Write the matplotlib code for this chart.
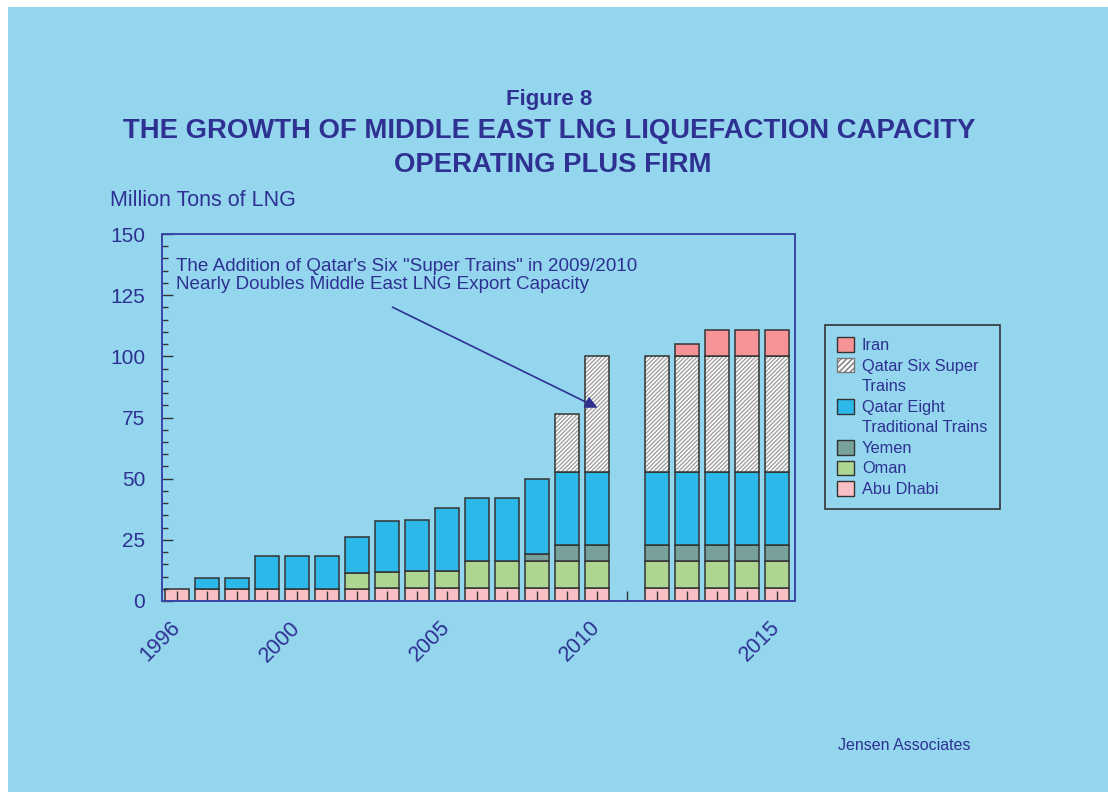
import matplotlib
matplotlib.use("Agg")
import matplotlib.pyplot as plt
from matplotlib.patches import Patch, Rectangle
from matplotlib.ticker import MultipleLocator
import numpy as np

plt.rcParams['font.family'] = ['Liberation Sans', 'DejaVu Sans']

# Category labels (blank slot between 2010 and 2011 as in the original)
years = ['1996', '1997', '1998', '1999', '2000', '2001', '2002', '2003', '2004', '2005',
         '2006', '2007', '2008', '2009', '2010', '', '2011', '2012', '2013', '2014', '2015']
labelled_years = ['1996', '2000', '2005', '2010', '2015']

# Million tons of LNG per year, by source
abu_dhabi = [5.0, 5.0, 5.0, 5.0, 5.0, 5.0, 5.0, 5.5, 5.5, 5.5,
             5.5, 5.5, 5.5, 5.5, 5.5, 0, 5.5, 5.5, 5.5, 5.5, 5.5]
oman = [0, 0, 0, 0, 0, 0, 6.4, 6.4, 6.9, 6.9,
        10.7, 10.7, 10.7, 10.7, 10.7, 0, 10.7, 10.7, 10.7, 10.7, 10.7]
yemen = [0, 0, 0, 0, 0, 0, 0, 0, 0, 0,
         0, 0, 3.2, 6.6, 6.6, 0, 6.6, 6.6, 6.6, 6.6, 6.6]
qatar_eight = [0, 4.2, 4.2, 13.4, 13.4, 13.4, 14.8, 20.8, 20.7, 25.8,
               25.8, 25.8, 30.3, 30.1, 30.1, 0, 30.1, 30.1, 30.1, 30.1, 30.1]
qatar_super = [0, 0, 0, 0, 0, 0, 0, 0, 0, 0,
               0, 0, 0, 23.7, 47.1, 0, 47.1, 47.1, 47.1, 47.1, 47.1]
iran = [0, 0, 0, 0, 0, 0, 0, 0, 0, 0,
        0, 0, 0, 0, 0, 0, 0, 5.2, 10.6, 10.6, 10.6]

bg = '#93d6ee'
navy = '#2e3192'
edge = '#333333'

fig = plt.figure(figsize=(11.08, 7.92), dpi=100)
fig.patch.set_facecolor('white')
fig.patches.append(Rectangle((8 / 1108, 0), 1, 1 - 7 / 792, transform=fig.transFigure,
                             facecolor=bg, edgecolor='none', zorder=-10))

ax = fig.add_axes([0.1462, 0.2412, 0.7175 - 0.1462, 0.7045 - 0.2412])
ax.set_facecolor(bg)

x = np.arange(len(years))
w = 0.8
bottom = np.zeros(len(years))
for vals, col in [(abu_dhabi, '#f8c0c4'), (oman, '#aed592'), (yemen, '#78a19b'),
                  (qatar_eight, '#2cb9ea')]:
    v = np.array(vals)
    ax.bar(x[v > 0], v[v > 0], w, bottom=bottom[v > 0], color=col,
           edgecolor=edge, linewidth=1.1)
    bottom += v

# hatched super trains: hatch layer then outline
v = np.array(qatar_super)
m = v > 0
ax.bar(x[m], v[m], w, bottom=bottom[m], facecolor='white', edgecolor='#a0a0a0',
       hatch='////////', linewidth=0)
ax.bar(x[m], v[m], w, bottom=bottom[m], fill=False, edgecolor=edge, linewidth=1.1)
bottom += v

v = np.array(iran)
m = v > 0
ax.bar(x[m], v[m], w, bottom=bottom[m], color='#f59396', edgecolor=edge, linewidth=1.1)

ax.set_xlim(-0.5, 20.6)
ax.set_ylim(0, 150)

for s in ax.spines.values():
    s.set_color('#3a46a8')
    s.set_linewidth(1.4)

ax.yaxis.set_major_locator(MultipleLocator(25))
ax.yaxis.set_minor_locator(MultipleLocator(5))
ax.tick_params(axis='y', which='major', direction='in', length=8, width=1,
               color=edge, labelcolor=navy, labelsize=15, pad=12)
ax.tick_params(axis='y', which='minor', direction='in', length=4.5, width=1, color=edge)

ax.set_xticks(x)
ax.set_xticklabels([y if y in labelled_years else '' for y in years],
                   rotation=45, ha='right', va='center', rotation_mode='anchor')
ax.tick_params(axis='x', direction='in', length=7, width=1, color=edge,
               labelcolor=navy, labelsize=15.5, pad=17)

ax.text(-0.03, 140.3, 'The Addition of Qatar\'s Six "Super Trains" in 2009/2010\n'
        'Nearly Doubles Middle East LNG Export Capacity',
        ha='left', va='top', fontsize=13.6, color=navy, linespacing=1.13)
ax.annotate('', xy=(14.1, 78.5), xytext=(7.1, 120.6),
            arrowprops=dict(arrowstyle='-|>', color=navy, lw=1.2, mutation_scale=18))

# legend (reverse stack order, wrapped labels as separate rows)
blank = Patch(facecolor='none', edgecolor='none')
handles = [Patch(facecolor='#f59396', edgecolor=edge),
           Patch(facecolor='white', edgecolor='#777777', hatch='//////'),
           blank,
           Patch(facecolor='#2cb9ea', edgecolor=edge),
           blank,
           Patch(facecolor='#78a19b', edgecolor=edge),
           Patch(facecolor='#aed592', edgecolor=edge),
           Patch(facecolor='#f8c0c4', edgecolor=edge)]
labels = ['Iran', 'Qatar Six Super', 'Trains', 'Qatar Eight', 'Traditional Trains',
          'Yemen', 'Oman', 'Abu Dhabi']
leg = ax.legend(handles, labels, loc='upper left', bbox_to_anchor=(825 / 1108, 1 - 325 / 792),
                bbox_transform=fig.transFigure, borderaxespad=0, fontsize=11.8,
                labelcolor=navy, handlelength=1.0, handleheight=1.0, handletextpad=0.5,
                labelspacing=0.28, borderpad=0.75, fancybox=False, facecolor=bg,
                framealpha=1)
leg.get_frame().set_edgecolor(edge)
leg.get_frame().set_linewidth(1.2)

fig.text(549 / 1108, 1 - 100 / 792, 'Figure 8', ha='center', va='center',
         fontsize=16, fontweight='bold', color=navy)
fig.text(549 / 1108, 1 - 131 / 792, 'THE GROWTH OF MIDDLE EAST LNG LIQUEFACTION CAPACITY',
         ha='center', va='center', fontsize=19.8, fontweight='bold', color=navy)
fig.text(553 / 1108, 1 - 165 / 792, 'OPERATING PLUS FIRM', ha='center', va='center',
         fontsize=19.8, fontweight='bold', color=navy)
fig.text(110 / 1108, 1 - 201 / 792, 'Million Tons of LNG', ha='left', va='center',
         fontsize=15.5, color=navy)
fig.text(838 / 1108, 1 - 745 / 792, 'Jensen Associates', ha='left', va='center',
         fontsize=11.5, color=navy)

fig.savefig('out.png', dpi=100)
